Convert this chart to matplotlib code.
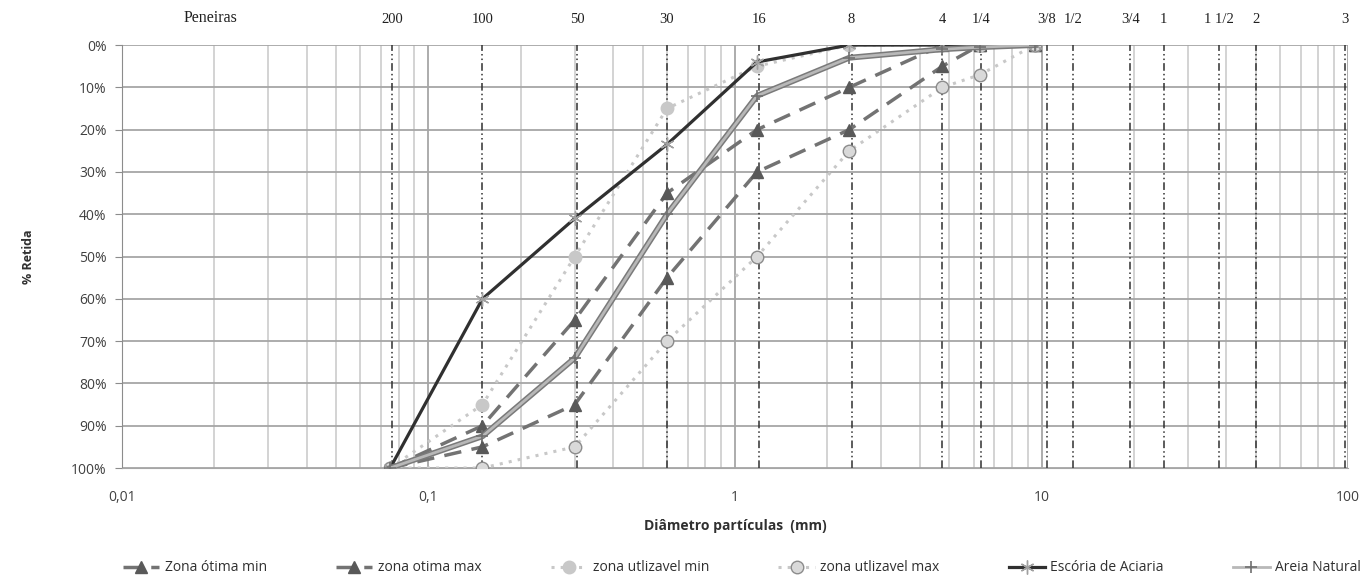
import matplotlib.pyplot as plt
from matplotlib.ticker import FixedLocator, FuncFormatter, LogLocator, NullFormatter

# abertura das peneiras (mm) onde os pontos foram medidos
peneiras_mm = [0.075, 0.15, 0.3, 0.6, 1.18, 2.36, 4.75, 6.3, 9.5]

# % retida acumulada
otima_min = [100, 90, 65, 35, 20, 10, 0, 0, 0]
otima_max = [100, 95, 85, 55, 30, 20, 5, 0, 0]
utiliz_min = [100, 85, 50, 15, 5, 0, 0, 0, 0]
utiliz_max = [100, 100, 95, 70, 50, 25, 10, 7, 0]
escoria = [100, 60, 41, 23.5, 4, 0, 0, 0, 0]
areia = [100, 92.5, 74, 40, 12, 3, 1, 0.5, 0]

# linhas verticais das peneiras e os seus nomes
linhas_mm = [0.076, 0.15, 0.305, 0.6, 1.2, 2.4, 4.75, 6.35, 10.4, 12.7, 19.5, 25, 38, 50, 98]
linhas_nome = ['200', '100', '50', '30', '16', '8', '4', '1/4', '3/8', '1/2', '3/4',
               '1', '1 1/2', '2', '3']

plt.rcParams['font.family'] = ['Open Sans', 'DejaVu Sans']

fig = plt.figure(figsize=(13.69, 5.85), dpi=100)
ax = fig.add_axes([0.0891, 0.2, 0.8956, 0.723])

ax.set_xscale('log')
ax.set_xlim(0.01, 100)
ax.set_ylim(100, 0)

# grade
ax.xaxis.set_major_locator(LogLocator(base=10, numticks=10))
ax.xaxis.set_minor_locator(LogLocator(base=10, subs=range(2, 10), numticks=20))
ax.xaxis.set_minor_formatter(NullFormatter())
ax.xaxis.set_major_formatter(FuncFormatter(lambda v, p: ('%g' % v).replace('.', ',')))
ax.yaxis.set_major_locator(FixedLocator(range(0, 101, 10)))
ax.yaxis.set_major_formatter(FuncFormatter(lambda v, p: '%d%%' % v))
ax.grid(which='major', axis='both', color='#a6a6a6', lw=1.3)
ax.grid(which='minor', axis='x', color='#d0d0d0', lw=1.3)
ax.set_axisbelow(True)

for s in ['top', 'right']:
    ax.spines[s].set_visible(False)
ax.spines['left'].set_color('#8c8c8c')
ax.spines['bottom'].set_color('#a6a6a6')
ax.tick_params(axis='y', length=5, color='#8c8c8c', labelsize=10, labelcolor='#404040', pad=6)
ax.tick_params(axis='x', which='both', length=0, labelsize=10, labelcolor='#404040', pad=16)

for xm, nome in zip(linhas_mm, linhas_nome):
    ax.axvline(xm, color='#303030', lw=1.1, ls=(0, (5, 2, 1, 2, 1, 2)), zorder=1.5)
    ax.text(xm, -4.5, nome, ha='center', va='bottom', fontsize=10.5,
            family='Liberation Serif', color='#202020')
ax.text(0.0195, -4.5, 'Peneiras', ha='center', va='bottom', fontsize=11.5,
        family='Liberation Serif', color='#202020')

ax.plot(peneiras_mm, otima_min, color='#737373', lw=2.5, ls=(0, (5, 3)),
        marker='^', ms=8, mfc='#595959', mec='#595959', label='Zona ótima min', zorder=3)
ax.plot(peneiras_mm, otima_max, color='#737373', lw=2.5, ls=(0, (5, 3)),
        marker='^', ms=8, mfc='#595959', mec='#595959', label='zona otima max', zorder=3)
ax.plot(peneiras_mm, utiliz_min, color='#c8c8c8', lw=2.2, ls=(0, (1, 2)),
        marker='o', ms=9, mfc='#c8c8c8', mec='#c8c8c8', label='zona utlizavel min', zorder=3)
ax.plot(peneiras_mm, utiliz_max, color='#c8c8c8', lw=2.2, ls=(0, (1, 2)),
        marker='o', ms=9, mfc='#d9d9d9', mec='#8c8c8c', label='zona utlizavel max', zorder=3)
ax.plot(peneiras_mm, escoria, color='#303030', lw=2.3, marker=(6, 2, 0), ms=10,
        mec='#a0a0a0', mew=1.0, label='Escória de Aciaria', zorder=4)
# contorno escuro da linha da areia
ax.plot(peneiras_mm, areia, color='#7a7a7a', lw=4.2, zorder=4)
ax.plot(peneiras_mm, areia, color='#b8b8b8', lw=2.0, marker='+', ms=9,
        mec='#707070', mew=1.2, label='Areia Natural', zorder=4)

ax.set_ylabel('% Retida', fontsize=9, fontweight='bold', color='#303030', labelpad=26)
ax.set_xlabel('Diâmetro partículas  (mm)', fontsize=10, fontweight='bold',
              color='#303030', labelpad=10)

fig.legend(loc='lower center', bbox_to_anchor=(0.542, -0.005), ncol=6, frameon=False,
           fontsize=10, handlelength=2.6, columnspacing=5.0, handletextpad=0.4,
           labelcolor='#303030')

fig.savefig('out.png', dpi=100)
